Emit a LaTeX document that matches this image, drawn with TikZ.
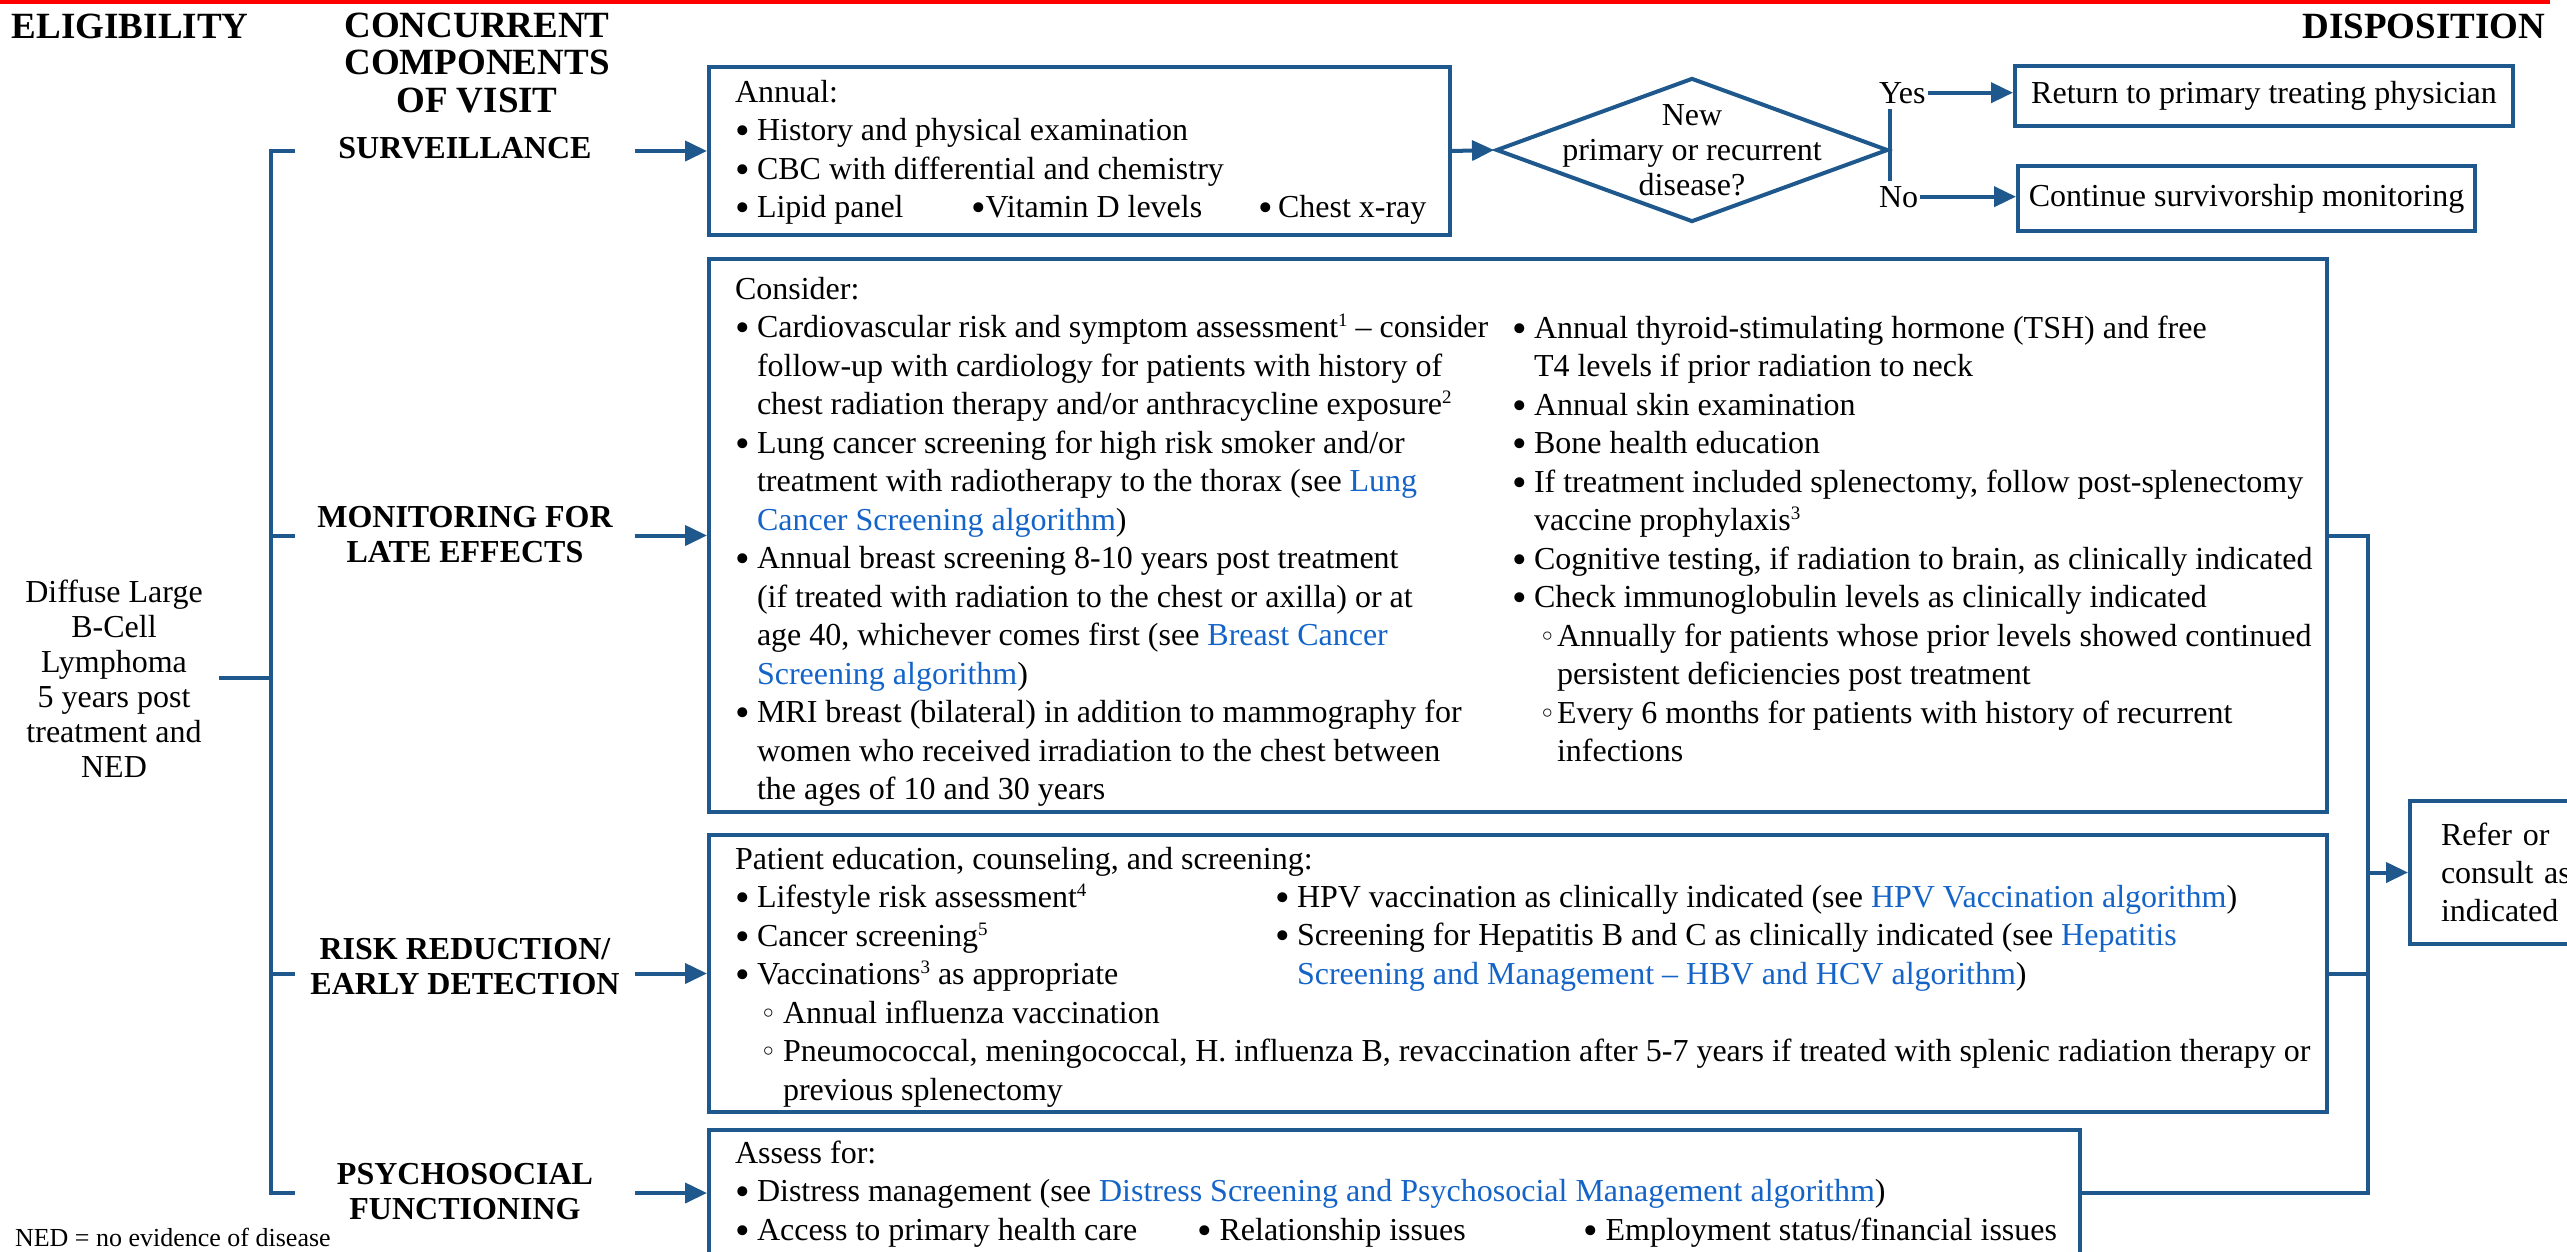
\documentclass[tikz,border=0pt]{standalone}
\usepackage[dvipsnames]{xcolor}
\usepackage{fontspec}
\setmainfont{Liberation Serif}
\newfontfamily\dejavu{DejaVu Sans}
\usepackage{tikz}
\usetikzlibrary{arrows.meta, shapes.geometric}

\definecolor{nccnblue}{RGB}{31,88,140}
\definecolor{linkblue}{RGB}{20,100,200}

% bullet items, sub items, footnote marks, links
\newcommand{\bul}{\raisebox{-4pt}{\scalebox{1.3}{\textbullet}}}
\newcommand{\itm}[1][22pt]{\par\hangindent=#1\hangafter=1\noindent\makebox[#1][l]{\bul}}
\newcommand{\sitm}[2]{\par\hangindent=#2\hangafter=1\noindent\hspace*{#1}\makebox[\dimexpr#2-#1\relax][l]{{\dejavu\fontsize{28}{28}\selectfont ◦}}}
\newcommand{\fn}[1]{\raisebox{11pt}{\fontsize{19}{19}\selectfont #1}}
\newcommand{\lnk}[1]{\textcolor{linkblue}{#1}}

\begin{document}
\begin{tikzpicture}[x=1pt, y=-1pt, line width=4pt,
  link/.style={draw=nccnblue, line width=4pt},
  arr/.style={link, -{Triangle[length=22pt, width=20pt]}},
  box/.style={draw=nccnblue, line width=4pt, rectangle, anchor=north west, inner sep=0pt,
              font=\fontsize{32}{38}\selectfont},
  dia/.style={draw=nccnblue, line width=4pt, diamond, inner sep=0pt,
              minimum width=392, minimum height=144},
  txt/.style={inner sep=0pt, font=\fontsize{32}{38.5}\selectfont},
  head/.style={inner sep=0pt, font=\bfseries\fontsize{37}{37.5}\selectfont},
  sect/.style={inner sep=0pt, anchor=base, font=\bfseries\fontsize{32}{35}\selectfont},
  yesno/.style={inner xsep=0pt, inner ysep=.3333em, anchor=base west, font=\fontsize{32}{38}\selectfont}]

\useasboundingbox (0,0) rectangle (2567,1251);

% draw red rule
\draw[red, line width=4pt] (0,2) -- (2550,2);

% draw column headings
\node[head, anchor=base west] (eligh) at (10,38) {ELIGIBILITY};
\node[head, anchor=base] (conch) at (477,37) {\parbox[t]{400pt}{\centering CONCURRENT\\COMPONENTS\\OF VISIT}};
\node[head, anchor=base east] (disph) at (2547,38) {DISPOSITION};

% draw eligibility
\node[txt, anchor=base, font=\fontsize{32}{35}\selectfont] (elig) at (114,602)
  {\parbox[t]{206pt}{\centering Diffuse Large\\B-Cell\\Lymphoma\\5 years post\\treatment and\\NED}};

% draw component labels
\node[sect] (survlbl) at (465,158) {\parbox[t]{336pt}{\centering SURVEILLANCE}};
\node[sect] (latelbl) at (465,527) {\parbox[t]{336pt}{\centering MONITORING FOR\\LATE EFFECTS}};
\node[sect] (risklbl) at (465,959) {\parbox[t]{336pt}{\centering RISK REDUCTION/\\EARLY DETECTION}};
\node[sect] (psylbl) at (465,1184) {\parbox[t]{336pt}{\centering PSYCHOSOCIAL\\FUNCTIONING}};

% draw boxes
\node[box, minimum width=741, minimum height=168] (survb) at (707,65) {};
\node[box, minimum width=1618, minimum height=553] (lateb) at (707,257) {};
\node[box, minimum width=1618, minimum height=277] (riskb) at (707,833) {};
\node[box, minimum width=1371, minimum height=126] (psyb) at (707,1128) {};

% surveillance text
\node[txt, anchor=base west] (survtxt) at (733,102) {\parbox[t]{700pt}{%
  Annual:
  \itm History and physical examination
  \itm CBC with differential and chemistry
  \itm\makebox[214pt][l]{Lipid panel}\makebox[287pt][l]{\bul Vitamin D levels}\makebox[20pt][l]{\bul}Chest x-ray}};

% late effects text
\node[txt, anchor=base west] (latetxtl) at (733,299) {\parbox[t]{780pt}{%
  Consider:
  \itm Cardiovascular risk and symptom assessment\fn{1} -- consider\\follow-up with cardiology for patients with history of\\chest radiation therapy and/or anthracycline exposure\fn{2}
  \itm Lung cancer screening for high risk smoker and/or\\treatment with radiotherapy to the thorax (see \lnk{Lung}\\\lnk{Cancer Screening algorithm})
  \itm Annual breast screening 8-10 years post treatment\\(if treated with radiation to the chest or axilla) or at\\age 40, whichever comes first (see \lnk{Breast Cancer}\\\lnk{Screening algorithm})
  \itm MRI breast (bilateral) in addition to mammography for\\women who received irradiation to the chest between\\the ages of 10 and 30 years}};
\node[txt, anchor=base west] (latetxtr) at (1510,338) {\parbox[t]{900pt}{%
  \itm Annual thyroid-stimulating hormone (TSH) and free\\T4 levels if prior radiation to neck
  \itm Annual skin examination
  \itm Bone health education
  \itm If treatment included splenectomy, follow post-splenectomy\\vaccine prophylaxis\fn{3}
  \itm Cognitive testing, if radiation to brain, as clinically indicated
  \itm Check immunoglobulin levels as clinically indicated
  \sitm{27pt}{45pt}Annually for patients whose prior levels showed continued\\persistent deficiencies post treatment
  \sitm{27pt}{45pt}Every 6 months for patients with history of recurrent\\infections}};

% risk reduction text
\node[txt, anchor=base west] (risktxtl) at (733,869) {\parbox[t]{1700pt}{%
  Patient education, counseling, and screening:
  \itm Lifestyle risk assessment\fn{4}
  \itm Cancer screening\fn{5}
  \itm Vaccinations\fn{3} as appropriate
  \sitm{25pt}{48pt}Annual influenza vaccination
  \sitm{25pt}{48pt}Pneumococcal, meningococcal, H. influenza B, revaccination after 5-7 years if treated with splenic radiation therapy or\\previous splenectomy}};
\node[txt, anchor=base west] (risktxtr) at (1273,907) {\parbox[t]{1100pt}{%
  \itm HPV vaccination as clinically indicated (see \lnk{HPV Vaccination algorithm})
  \itm Screening for Hepatitis B and C as clinically indicated (see \lnk{Hepatitis}\\\lnk{Screening and Management -- HBV and HCV algorithm})}};

% psychosocial text
\node[txt, anchor=base west] (psytxt) at (733,1163) {\parbox[t]{1400pt}{%
  Assess for:
  \itm Distress management (see \lnk{Distress Screening and Psychosocial Management algorithm})
  \itm\makebox[440pt][l]{Access to primary health care}\makebox[386pt][l]{\bul\ Relationship issues}\bul\ Employment status/financial issues}};

% draw decision
\node[dia] (newdis) at (1692,150) {};
\node[txt, align=center, font=\fontsize{32}{35}\selectfont] (newdistxt) at (1692,150) {New\\primary or recurrent\\disease?};
\node[yesno] (yes) at (1877,103) {Yes};
\node[yesno] (no) at (1877,207) {No};
\node[box, minimum width=498, minimum height=60] (retb) at (2013,64) {Return to primary treating physician};
\node[box, minimum width=457, minimum height=65] (contb) at (2016,164) {Continue survivorship monitoring};
\node[box, minimum height=143, text width=200pt, inner xsep=31pt, align=left] (referb) at (2408,799) {Refer or\\consult as\\indicated};

% draw footnote
\node[txt, anchor=base west, font=\fontsize{26}{30}\selectfont] (nedfoot) at (13,1246) {NED = no evidence of disease};

% draw left bracket
\coordinate (spine) at (271,0);
\draw[link] (survlbl.west |- survb.west) -- (spine |- survb.west) -- (spine |- psyb.west) -- (psylbl.west |- psyb.west);
\draw[link] (spine |- lateb.west) -- (latelbl.west |- lateb.west);
\draw[link] (spine |- riskb.west) -- (risklbl.west |- riskb.west);
\draw[link] (elig.east) -- (elig.east -| spine);

% draw arrows into boxes
\draw[arr] (survlbl.east |- survb.west) -- (survb.west);
\draw[arr] (latelbl.east |- lateb.west) -- (lateb.west);
\draw[arr] (risklbl.east |- riskb.west) -- (riskb.west);
\draw[arr] (psylbl.east |- psyb.west) -- (psyb.west);

% draw decision branches
\draw[arr] (survb.east) -- (newdis.west);
\draw[link] (yes.south -| newdis.east) -- (no.north -| newdis.east);
\draw[arr] (yes.east) -- (yes.east -| retb.west);
\draw[arr] (no.east) -- (no.east -| contb.west);

% draw right bracket
\coordinate (rspine) at (2368,0);
\draw[link] (lateb.east) -- (lateb.east -| rspine) -- (rspine |- psyb.east) -- (psyb.east);
\draw[link] (riskb.east) -- (riskb.east -| rspine);
\draw[arr] (rspine |- referb.west) -- (referb.west);

\end{tikzpicture}
\end{document}
